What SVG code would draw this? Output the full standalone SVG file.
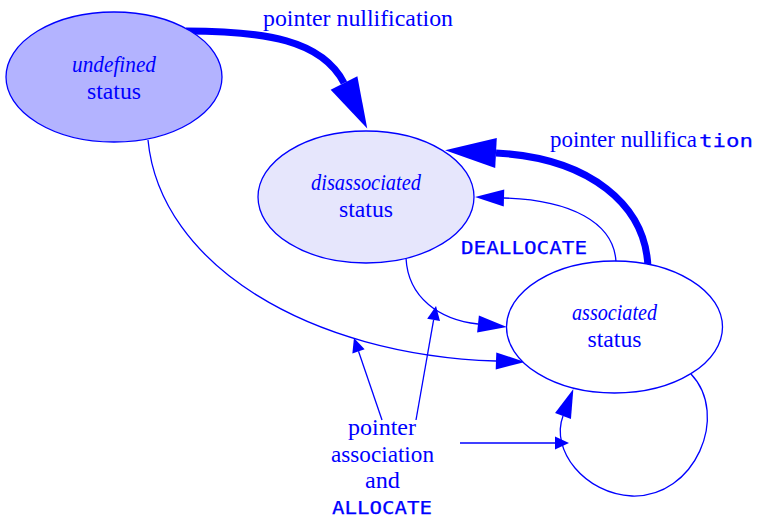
<svg xmlns="http://www.w3.org/2000/svg" width="757" height="518" viewBox="0 0 757 518">
  <style>
    .node { stroke: #0000ff; stroke-width: 1.3; }
    .edge { fill: none; stroke: #0000ff; stroke-width: 1.3; }
    .thick { fill: none; stroke: #0000ff; stroke-width: 7; }
    .serif { font-family: "Liberation Serif", "Times New Roman", serif; font-size: 23px; fill: #0000ff; }
    .it { font-style: italic; }
    .mono { font-family: "DejaVu Sans Mono", monospace; font-size: 18.5px; fill: #0000ff; stroke: #0000ff; stroke-width: 0.25; }
  </style>
  <defs>
    <marker id="bigHead" markerUnits="userSpaceOnUse" markerWidth="52" markerHeight="32" refX="0" refY="16" orient="auto" overflow="visible">
      <path d="M0,1 L51,16 L0,31 z" fill="#0000ff"/>
    </marker>
    <marker id="midHead" markerUnits="userSpaceOnUse" markerWidth="30" markerHeight="18" refX="0" refY="9" orient="auto" overflow="visible">
      <path d="M0,0.5 L29,9 L0,17.5 z" fill="#0000ff"/>
    </marker>
    <marker id="smallHead" markerUnits="userSpaceOnUse" markerWidth="15" markerHeight="14" refX="0" refY="7" orient="auto" overflow="visible">
      <path d="M0,0.5 L14,7 L0,13.5 z" fill="#0000ff"/>
    </marker>
  </defs>

  <!-- connectors -->
  <g id="connectors">
    <!-- undefined -> disassociated (nullification) -->
    <path class="thick" d="M186,31 C265,31 322,40 344,83" marker-end="url(#bigHead)"/>
    <!-- associated -> disassociated (nullification) -->
    <path class="thick" d="M648,268 C646,205 590,158 496,153" marker-end="url(#bigHead)"/>
    <!-- associated -> disassociated (DEALLOCATE) -->
    <path class="edge" d="M616,262 C614,222 570,200 504,198" marker-end="url(#midHead)"/>
    <!-- disassociated -> associated -->
    <path class="edge" d="M406,258 C408,298 440,320 478,324" marker-end="url(#midHead)"/>
    <!-- undefined -> associated -->
    <path class="edge" d="M148,140 C160,265 310,355 496,361" marker-end="url(#midHead)"/>
    <!-- associated self loop -->
    <path class="edge" d="M691,374 C730,415 695,498 632,496 C585,494 550,450 563,416" marker-end="url(#midHead)"/>
    <!-- label pointers -->
    <path class="edge" d="M460,443 L555,443" marker-end="url(#smallHead)"/>
    <path class="edge" d="M382,420 L358.5,351.3" marker-end="url(#smallHead)"/>
    <path class="edge" d="M416,420 L433.6,319.8" marker-end="url(#smallHead)"/>
  </g>

  <g id="undefined">
    <ellipse class="node" cx="114" cy="77" rx="108" ry="65" fill="#b3b3ff"/>
    <text class="serif it" x="114" y="72" text-anchor="middle" textLength="84" lengthAdjust="spacingAndGlyphs">undefined</text>
    <text class="serif" x="114" y="99" text-anchor="middle" textLength="54" lengthAdjust="spacingAndGlyphs">status</text>
  </g>

  <g id="disassociated">
    <ellipse class="node" cx="366" cy="197" rx="108" ry="66" fill="#e6e6fc"/>
    <text class="serif it" x="366" y="190" text-anchor="middle" textLength="110" lengthAdjust="spacingAndGlyphs">disassociated</text>
    <text class="serif" x="366" y="217" text-anchor="middle" textLength="54" lengthAdjust="spacingAndGlyphs">status</text>
  </g>

  <g id="associated">
    <ellipse class="node" cx="614.5" cy="327" rx="108" ry="66" fill="#ffffff"/>
    <text class="serif it" x="614.5" y="320" text-anchor="middle" textLength="85" lengthAdjust="spacingAndGlyphs">associated</text>
    <text class="serif" x="614.5" y="347" text-anchor="middle" textLength="54" lengthAdjust="spacingAndGlyphs">status</text>
  </g>

  <!-- edge labels -->
  <g id="labels">
    <text class="serif" x="263" y="26" textLength="190" lengthAdjust="spacingAndGlyphs">pointer nullification</text>
    <text class="serif" x="550" y="147" textLength="147" lengthAdjust="spacingAndGlyphs">pointer nullifica</text>
    <text class="mono" x="699" y="147" textLength="54" lengthAdjust="spacingAndGlyphs">tion</text>
    <text class="mono" x="461" y="254" textLength="126" lengthAdjust="spacingAndGlyphs">DEALLOCATE</text>
    <text class="serif" x="382" y="435" text-anchor="middle" textLength="68" lengthAdjust="spacingAndGlyphs">pointer</text>
    <text class="serif" x="382.5" y="462" text-anchor="middle" textLength="103" lengthAdjust="spacingAndGlyphs">association</text>
    <text class="serif" x="382.5" y="488" text-anchor="middle" textLength="35" lengthAdjust="spacingAndGlyphs">and</text>
    <text class="mono" x="332" y="514" textLength="100" lengthAdjust="spacingAndGlyphs">ALLOCATE</text>
  </g>
</svg>
